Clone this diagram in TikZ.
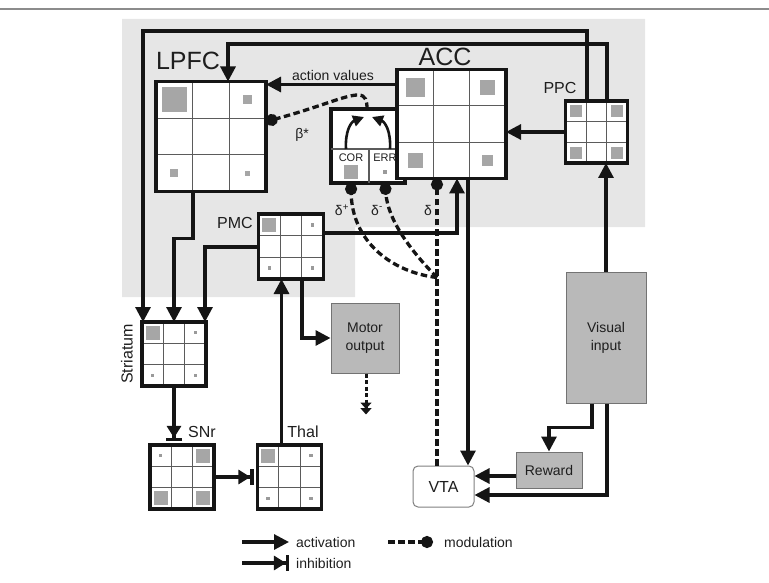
\documentclass[tikz,border=0pt]{standalone}
\usepackage{fontspec}
\setmainfont{Liberation Sans}
\usetikzlibrary{arrows.meta,calc}
\definecolor{bggray}{HTML}{E6E6E6}
\definecolor{sqgray}{HTML}{A6A6A6}
\definecolor{dotgray}{HTML}{9A9A9A}
\definecolor{boxgray}{HTML}{B9B9B9}
\definecolor{txt}{HTML}{1E1E1E}
\definecolor{ink}{HTML}{151515}
\tikzset{
  gridnode/.style={rectangle, fill=white, inner sep=0pt, outer sep=0pt},
  gridborder/.style={draw=ink, line width=3.4pt},
  gridline/.style={draw=ink!70, line width=1.1pt},
  sqfill/.style={fill=sqgray},
  act/.style={draw=ink, line width=3.1pt, -{Triangle[length=15pt,width=15pt]}},
  inh/.style={draw=ink, line width=3.1pt, -{Triangle[length=12pt,width=14pt,sep=0pt]Bar[width=16pt]}},
  mod/.style={draw=ink, line width=3.3pt, dash pattern=on 6.5pt off 3.5pt, -{Circle[length=12pt]}},
  lbl/.style={text=txt, inner sep=0pt},
  fbig/.style={font=\fontsize{25}{28}\selectfont},
  fmid/.style={font=\fontsize{16}{19}\selectfont},
  fsm/.style={font=\fontsize{14}{18}\selectfont},
  ftiny/.style={font=\fontsize{11}{13}\selectfont},
  graybox/.style={draw=black!55, line width=1pt, fill=boxgray, inner sep=0pt, text=txt, align=center, font=\fontsize{14}{18}\selectfont},
}
\newcommand{\cellgrid}[4]{%
  \node[gridnode, minimum size=#4pt] (#1) at (#2,#3) {};
  \draw[gridline] ($(#1.north west)!0.3333!(#1.north east)$) -- ($(#1.south west)!0.3333!(#1.south east)$);
  \draw[gridline] ($(#1.north west)!0.6667!(#1.north east)$) -- ($(#1.south west)!0.6667!(#1.south east)$);
  \draw[gridline] ($(#1.north west)!0.3333!(#1.south west)$) -- ($(#1.north east)!0.3333!(#1.south east)$);
  \draw[gridline] ($(#1.north west)!0.6667!(#1.south west)$) -- ($(#1.north east)!0.6667!(#1.south east)$);
  \draw[gridborder] (#1.north west) rectangle (#1.south east);
}
\newcommand{\cellsq}[4]{%
  \coordinate (sqx) at ($(#1.north west)!{(#2-0.5)/3}!(#1.north east)$);
  \coordinate (sqy) at ($(#1.north west)!{(#3-0.5)/3}!(#1.south west)$);
  \fill[sqfill] (sqx |- sqy) ++(-#4/2,-#4/2) rectangle ++(#4,#4);
}
\newcommand{\celldot}[3]{%
  \coordinate (sqx) at ($(#1.north west)!{(#2-0.5)/3}!(#1.north east)$);
  \coordinate (sqy) at ($(#1.north west)!{(#3-0.5)/3}!(#1.south west)$);
  \fill[dotgray] (sqx |- sqy) ++(-1.7,-1.7) rectangle ++(3.4,3.4);
}
\begin{document}
\begin{tikzpicture}[x=1pt,y=-1pt]
\useasboundingbox (0,0) rectangle (769,583);
\draw[draw=black!45, line width=1.3pt] (0,9) -- (769,9);
\fill[bggray] (122,19) -- (645,19) -- (645,227) -- (355,227) -- (355,297) -- (122,297) -- cycle;

% COR / ERR box
\node[gridnode, draw=ink, line width=3.4pt, minimum width=74pt, minimum height=74pt] (corbox) at (368,146) {};
\draw[gridline] ($(corbox.north west)+(0,40)$) -- ($(corbox.north east)+(0,40)$);
\draw[gridline] ($(corbox.north west)+(38,40)$) -- ($(corbox.south west)+(38,0)$);
\node[lbl, ftiny] (cor) at (351,158) {COR};
\node[lbl, ftiny] (err) at (385,158) {ERR};
\fill[sqfill] (344,165) rectangle (358,179);
\fill[dotgray] (383.3,170.3) rectangle (386.7,173.7);
\draw[draw=ink, line width=2.6pt, -{Triangle[length=11pt,width=11pt]}] ($(corbox.north west)+(15,40)$) .. controls ($(corbox.north west)+(14,22)$) and ($(corbox.north west)+(20,13)$) .. ($(corbox.north west)+(33,8)$);
\draw[draw=ink, line width=2.6pt, -{Triangle[length=11pt,width=11pt]}] ($(corbox.north west)+(59,40)$) .. controls ($(corbox.north west)+(60,22)$) and ($(corbox.north west)+(54,13)$) .. ($(corbox.north west)+(41,8)$);

% grids
\cellgrid{lpfc}{211}{136.5}{110}
\cellsq{lpfc}{1}{1}{25}\cellsq{lpfc}{3}{1}{9}\cellsq{lpfc}{1}{3}{8}\cellsq{lpfc}{3}{3}{5}
\cellgrid{acc}{451.5}{124}{109}
\cellsq{acc}{1}{1}{19}\cellsq{acc}{3}{1}{15}\cellsq{acc}{1}{3}{15}\cellsq{acc}{3}{3}{11}
\cellgrid{ppc}{596.5}{132}{62}
\cellsq{ppc}{1}{1}{12}\cellsq{ppc}{3}{1}{12}\cellsq{ppc}{1}{3}{12}\cellsq{ppc}{3}{3}{12}
\cellgrid{pmc}{291}{246.5}{65}
\cellsq{pmc}{1}{1}{14}\celldot{pmc}{3}{1}\celldot{pmc}{1}{3}\celldot{pmc}{3}{3}
\cellgrid{str}{174}{354}{64}
\cellsq{str}{1}{1}{14}\celldot{str}{3}{1}\celldot{str}{1}{3}\celldot{str}{3}{3}
\cellgrid{snr}{182}{477}{64}
\celldot{snr}{1}{1}\cellsq{snr}{3}{1}{14}\cellsq{snr}{1}{3}{14}\cellsq{snr}{3}{3}{14}
\cellgrid{thal}{289.5}{477}{64}
\cellsq{thal}{1}{1}{14}\celldot{thal}{3}{1}\celldot{thal}{1}{3}\celldot{thal}{3}{3}

% labels
\node[lbl, fbig] (lpfcl) at (188,61) {LPFC};
\node[lbl, fbig] (accl) at (445,57) {ACC};
\node[lbl, fmid] (ppcl) at (560,88) {PPC};
\node[lbl, fmid] (pmcl) at (235,223) {PMC};
\node[lbl, fmid, rotate=90] (strl) at (127,354) {Striatum};
\node[lbl, fmid] (snrl) at (202,432) {SNr};
\node[lbl, fmid] (thall) at (303,432) {Thal};
\node[lbl, fsm] (avl) at (333,75) {action values};
\node[lbl, fsm] (betal) at (302,135) {β*};
\node[lbl, fsm] (dpl) at (342,210) {δ\textsuperscript{+}};
\node[lbl, fsm] (dml) at (377,210) {δ\textsuperscript{-}};
\node[lbl, fsm] (dl) at (428,210) {δ};

% gray boxes
\node[graybox, minimum width=80pt, minimum height=131pt] (vis) at (606,337.5) {Visual\\input};
\node[graybox, minimum width=68pt, minimum height=70pt] (motor) at (365,338) {Motor\\output};
\node[graybox, minimum width=66pt, minimum height=36pt] (reward) at (549,470) {Reward};
\node[draw=black!50, line width=1pt, fill=white, rounded corners=5pt, minimum width=61pt, minimum height=41pt, inner sep=0pt, text=txt, font=\fontsize{16}{19}\selectfont] (vta) at (443.5,486.5) {VTA};

% activation connectors
\draw[act] ([xshift=10.5pt]ppc.north) -- ++(0,-57) -| ($(lpfc.north west)+(72,0)$);
\draw[act] ([xshift=-9.5pt]ppc.north) -- ++(0,-70) -| ($(str.north west)+(1,0)$);
\draw[act] ($(lpfc.south west)+(37,0)$) -- ++(0,47) -| (str.north);
\draw[act] ($(pmc.west)+(0,0.5)$) -| ($(str.north east)+(-1,0)$);
\draw[act] ($(pmc.east)+(0,-13.5)$) -| ($(acc.south west)+(60,0)$);
\draw[act] ($(pmc.south)+(11,0)$) |- (motor.west);
\coordinate (thx) at ($(thal.north west)+(24,0)$);
\draw[act] (thx) -- (thx |- pmc.south);
\draw[act] ($(acc.north west)+(0,15)$) -- ($(lpfc.north east)+(0,3)$);
\draw[act] (ppc.west) -- (ppc.west -| acc.east);
\draw[act] (vis.north) -- (vis.north |- ppc.south);
\draw[act] ($(vis.south)+(-14,0)$) -- ++(0,24) -| (reward.north);
\draw[act] ($(vis.south)+(1,0)$) |- ($(vta.east)+(0,8.5)$);
\coordinate (rw) at ($(reward.west)+(0,6)$);
\draw[act] (rw) -- (rw -| vta.east);
\coordinate (accv) at ($(acc.south east)+(-38,0)$);
\draw[act] (accv) -- (accv |- vta.north);
\draw[draw=ink, line width=3pt, dash pattern=on 4pt off 2.5pt, -{Triangle[length=6.5pt,width=11pt,sep=-1pt]Triangle[length=6.5pt,width=11pt]}] ($(motor.south)+(1,0)$) -- ++(0,41);

% inhibition
\draw[inh] (str.south) -- ($(snr.north west)+(24,-4)$);
\draw[inh] (snr.east) -- ($(thal.west)+(-4,0)$);

% modulation
\coordinate (dtop) at ($(acc.south west)+(40,0)$);
\coordinate (P) at ($(dtop)+(0,99)$);
\draw[mod] (dtop |- vta.north) -- (dtop);
\draw[mod] (P) .. controls (390,272) and (352,240) .. ($(corbox.south west)+(20,0)$);
\draw[mod] (P) .. controls (410,250) and (388,220) .. ($(corbox.south west)+(54,0)$);
\draw[mod] ($(corbox.north west)+(36,0)$) .. controls (367,101) and (366,95) .. (358,95) .. controls (345,95) and (320,107) .. ($(lpfc.east)+(0,-15)$);

% legend
\coordinate (la1) at (242,542); \coordinate (la2) at (289,542);
\draw[act] (la1) -- (la2);
\node[lbl, fsm, anchor=west] (lact) at (296,542) {activation};
\coordinate (li1) at (242,563); \coordinate (li2) at (289,563);
\draw[inh] (li1) -- (li2);
\node[lbl, fsm, anchor=west] (linh) at (296,563) {inhibition};
\coordinate (lm1) at (388,542); \coordinate (lm2) at (433,542);
\draw[mod] (lm1) -- (lm2);
\node[lbl, fsm, anchor=west] (lmod) at (444,542) {modulation};
\end{tikzpicture}
\end{document}
